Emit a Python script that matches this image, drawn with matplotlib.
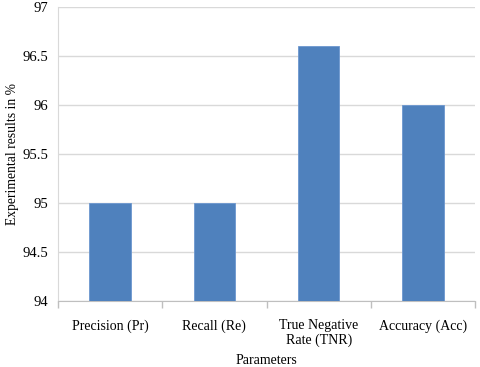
import matplotlib
matplotlib.use("Agg")
import matplotlib.pyplot as plt
import numpy as np

categories = ["Precision (Pr)", "Recall (Re)", "True Negative\nRate (TNR)", "Accuracy (Acc)"]
values = [95.0, 95.0, 96.6, 96.0]
yticks = [94, 94.5, 95, 95.5, 96, 96.5, 97]
ytick_labels = ["94", "94.5", "95", "95.5", "96", "96.5", "97"]

plt.rcParams['font.family'] = ['Liberation Serif', 'DejaVu Serif']

fig = plt.figure(figsize=(4.8, 3.67), dpi=100)
ax = fig.add_axes([58 / 480, 1 - 301 / 367, (475 - 58) / 480, (301 - 7) / 367])

x = np.arange(len(categories))
heights = [v - 94.0 for v in values]
ax.bar(x, heights, bottom=94.0, width=0.4,
       color='#4F81BD', edgecolor='#6C97CF', linewidth=0.6, zorder=3)

ax.set_xlim(-0.5, len(categories) - 0.5)
ax.set_ylim(94, 97)
ax.set_yticks(yticks)
ax.set_yticklabels(ytick_labels, fontsize=10.5)
ax.tick_params(axis='y', length=0, pad=7)
ax.yaxis.grid(True, color='#D9D9D9', linewidth=1.0, zorder=0)

# category labels sit between boundary ticks, Excel style
ax.set_xticks(x)
ax.set_xticklabels(categories, fontsize=10, linespacing=1.1)
ax.tick_params(axis='x', length=0, pad=13)
ax.set_xticks(np.arange(len(categories) + 1) - 0.5, minor=True)
ax.tick_params(axis='x', which='minor', length=5, color='#BFBFBF', width=1.0)

for side in ['top', 'right']:
    ax.spines[side].set_visible(False)
ax.spines['left'].set_color('#D9D9D9')
ax.spines['bottom'].set_color('#BFBFBF')

ax.set_ylabel("Experimental results in %", fontsize=9.8)
ax.yaxis.set_label_coords(-39 / 417, 0.5)
ax.set_xlabel("Parameters", fontsize=10, labelpad=5)

fig.savefig("out.png", dpi=100)
